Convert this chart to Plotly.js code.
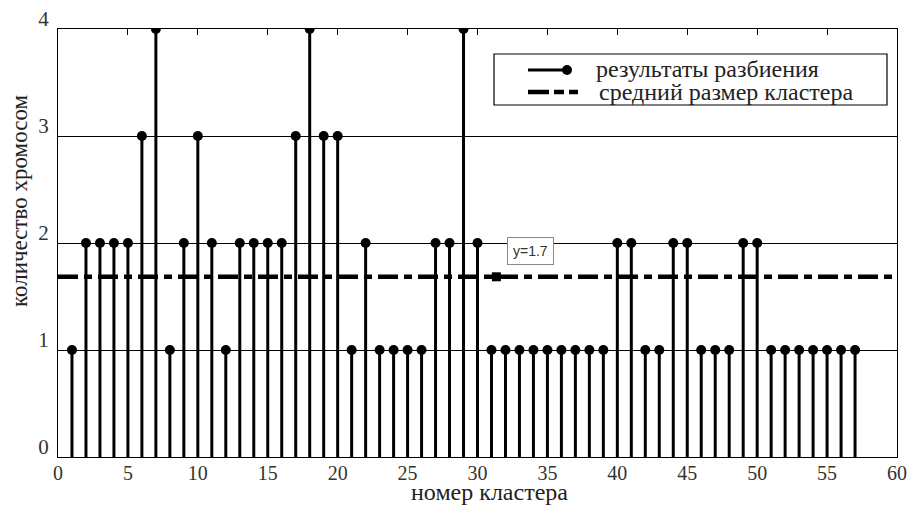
<!DOCTYPE html>
<html>
<head>
<meta charset="utf-8">
<script src="https://cdn.plot.ly/plotly-3.0.1.min.js"></script>
<style>html,body{margin:0;padding:0;background:#fff;}#chart{width:908px;height:506px;}</style>
</head>
<body>
<div id="chart"></div>
<script>
// ---- data ----
var clusterNumbers = [];
for (var i = 1; i <= 57; i++) clusterNumbers.push(i);
var chromosomeCounts = [
  1,2,2,2,2,3,4,1,2,3,
  2,1,2,2,2,2,3,4,3,3,
  1,2,1,1,1,1,2,2,4,2,
  1,1,1,1,1,1,1,1,1,2,
  2,1,1,2,2,1,1,1,2,2,
  1,1,1,1,1,1,1
];
var xTickValues = [0,5,10,15,20,25,30,35,40,45,50,55,60];
var yTickValues = [0,1,2,3,4];
var legendLabels = ['результаты разбиения', 'средний размер кластера'];
var xAxisLabel = 'номер кластера';
var yAxisLabel = 'количество хромосом';
var datatipX = 31.35;
var datatipLabel = 'y=1.7';

var meanSize = chromosomeCounts.reduce(function(a,b){return a+b;},0) / chromosomeCounts.length;
var zeros = chromosomeCounts.map(function(){return 0;});

var serif = '"Liberation Serif", "DejaVu Serif", serif';
var dashPattern = '20px,6px,8px,6px';

var traces = [
  {
    x: [0, 60], y: [meanSize, meanSize], mode: 'lines', showlegend: false, hoverinfo: 'skip',
    line: {color: 'black', width: 4.5, dash: dashPattern}
  },
  {
    x: clusterNumbers, y: chromosomeCounts, mode: 'markers', showlegend: false,
    marker: {color: 'black', size: 10, symbol: 'circle'},
    error_y: {type: 'data', symmetric: false, array: zeros, arrayminus: chromosomeCounts,
              width: 0, thickness: 3, color: 'black'}
  },
  {
    x: [datatipX], y: [meanSize], mode: 'markers', showlegend: false,
    marker: {color: 'black', size: 9, symbol: 'square'}
  }
];

// paper-coordinate helpers for legend layout
function px(p) { return (p - 58) / 839; }
function py(p) { return (457 - p) / 428; }

var layout = {
  width: 908, height: 506,
  margin: {l: 58, r: 11, t: 29, b: 49},
  paper_bgcolor: 'white', plot_bgcolor: 'white',
  showlegend: false,
  font: {family: serif, color: '#222'},
  xaxis: {
    range: [0, 60], tickvals: xTickValues, ticks: 'inside', ticklen: 6, tickcolor: 'black',
    showline: true, linecolor: 'black', linewidth: 1, mirror: 'ticks',
    showgrid: false, zeroline: false, ticklabelstandoff: -2,
    tickfont: {family: serif, size: 20, color: '#333'}
  },
  yaxis: {
    range: [0, 4], tickvals: yTickValues, ticks: 'inside', ticklen: 6, tickcolor: 'black',
    showline: true, linecolor: 'black', linewidth: 1, mirror: 'ticks',
    showgrid: true, gridcolor: 'black', gridwidth: 1,
    zeroline: true, zerolinecolor: 'black', zerolinewidth: 3,
    ticklabelshift: -10, ticklabelstandoff: 4,
    tickfont: {family: serif, size: 21, color: '#333'}
  },
  shapes: [
    {type: 'rect', xref: 'paper', yref: 'paper', x0: px(494), x1: px(887), y0: py(105), y1: py(54),
     line: {color: 'black', width: 1.2}, fillcolor: 'white', layer: 'above'},
    {type: 'line', xref: 'paper', yref: 'paper', x0: px(528), x1: px(567), y0: py(70), y1: py(70),
     line: {color: 'black', width: 3}, layer: 'above'},
    {type: 'circle', xref: 'paper', yref: 'paper', xsizemode: 'pixel', ysizemode: 'pixel',
     xanchor: px(567), yanchor: py(70), x0: -5, x1: 5, y0: -5, y1: 5,
     fillcolor: 'black', line: {color: 'black', width: 0}, layer: 'above'},
    {type: 'line', xref: 'paper', yref: 'paper', x0: px(528), x1: px(578), y0: py(92), y1: py(92),
     line: {color: 'black', width: 4.5, dash: '21px,5px,10px,5px,9px,5px'}, layer: 'above'}
  ],
  annotations: [
    {xref: 'paper', yref: 'paper', x: px(594), y: py(69), xanchor: 'left', yanchor: 'middle',
     text: legendLabels[0], showarrow: false, font: {family: serif, size: 24, color: '#222'}},
    {xref: 'paper', yref: 'paper', x: px(597), y: py(92), xanchor: 'left', yanchor: 'middle',
     text: legendLabels[1], showarrow: false, font: {family: serif, size: 24, color: '#222'}},
    {xref: 'paper', yref: 'paper', x: px(489), y: py(492), xanchor: 'center', yanchor: 'middle',
     text: xAxisLabel, showarrow: false, font: {family: serif, size: 24, color: '#222'}},
    {xref: 'paper', yref: 'paper', x: px(19), y: py(201), xanchor: 'center', yanchor: 'middle',
     text: yAxisLabel, textangle: -90, showarrow: false, font: {family: serif, size: 23, color: '#222'}},
    {xref: 'x', yref: 'y', x: datatipX, y: meanSize, text: datatipLabel,
     showarrow: true, arrowcolor: 'rgba(0,0,0,0)', arrowwidth: 0.1, ax: 34, ay: -26,
     bgcolor: 'white', bordercolor: '#888', borderwidth: 1, borderpad: 5,
     font: {family: '"Liberation Sans", Arial, sans-serif', size: 14, color: '#333'}}
  ]
};

Plotly.newPlot('chart', traces, layout, {displayModeBar: false, staticPlot: true});
</script>
</body>
</html>
